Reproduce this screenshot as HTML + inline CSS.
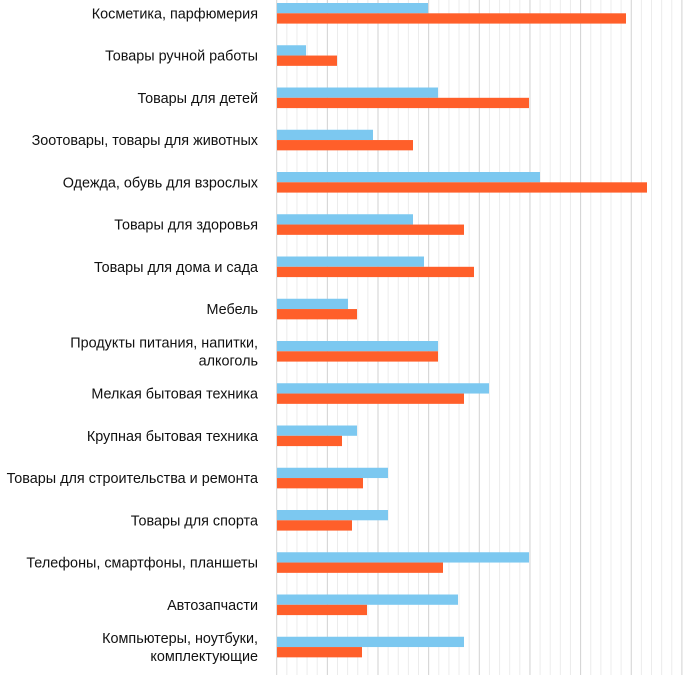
<!DOCTYPE html>
<html><head><meta charset="utf-8"><style>
html,body{margin:0;padding:0;background:#fff;width:700px;height:675px;overflow:hidden}
svg text{font-family:"Liberation Sans",sans-serif;font-size:14.4px;fill:#111}
</style></head><body>
<svg width="700" height="675" xmlns="http://www.w3.org/2000/svg">
<g id="grid"></g>
<g id="bars"></g>
<g id="labels"></g>
</svg>
<script>
const ns="http://www.w3.org/2000/svg";
const grid=document.getElementById('grid'),bars=document.getElementById('bars'),labels=document.getElementById('labels');
const x0=276.7,step=10.13;
for(let i=0;i<=40;i++){const x=x0+i*step;if(x>700)break;const l=document.createElementNS(ns,'line');
l.setAttribute('x1',x);l.setAttribute('x2',x);l.setAttribute('y1',0);l.setAttribute('y2',675);
l.setAttribute('stroke',i%5==0?'#d2d2d2':'#ececec');l.setAttribute('stroke-width',1);grid.appendChild(l);}
const d=[
[["Косметика, парфюмерия"],428,626],
[["Товары ручной работы"],306,337],
[["Товары для детей"],438,529],
[["Зоотовары, товары для животных"],373,413],
[["Одежда, обувь для взрослых"],540,647],
[["Товары для здоровья"],413,464],
[["Товары для дома и сада"],424,474],
[["Мебель"],348,357],
[["Продукты питания, напитки,","алкоголь"],438,438],
[["Мелкая бытовая техника"],489,464],
[["Крупная бытовая техника"],357,342],
[["Товары для строительства и ремонта"],388,363],
[["Товары для спорта"],388,352],
[["Телефоны, смартфоны, планшеты"],529,443],
[["Автозапчасти"],458,367],
[["Компьютеры, ноутбуки,","комплектующие"],464,362]];
d.forEach((r,k)=>{const y=3+42.25*k;
[[r[1],'#7cc8f0',y],[r[2],'#ff5f2a',y+10.3]].forEach(b=>{const e=document.createElementNS(ns,'rect');
e.setAttribute('x',277);e.setAttribute('y',b[2]);e.setAttribute('width',b[0]-277);e.setAttribute('height',10.3);e.setAttribute('fill',b[1]);bars.appendChild(e);});
const cy=y+10.3,n=r[0].length;
r[0].forEach((s,j)=>{const t=document.createElementNS(ns,'text');t.setAttribute('x',258);
t.setAttribute('y',cy+5+(j-(n-1)/2)*18);t.setAttribute('text-anchor','end');t.textContent=s;labels.appendChild(t);});
});
</script>
</body></html>
